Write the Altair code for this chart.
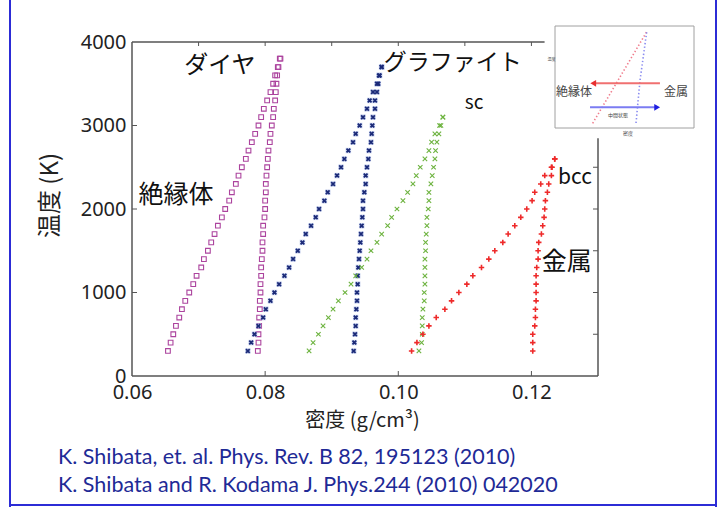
import altair as alt
import pandas as pd

# ---------------- data ----------------
T_diamond = [300, 400, 500, 600, 700, 800, 900, 1000, 1100, 1200, 1300, 1400,
             1500, 1600, 1700, 1800, 1900, 2000, 2100, 2200, 2300, 2400, 2500,
             2600, 2700, 2800, 2900, 3000, 3100, 3200, 3300, 3400, 3500, 3600,
             3700, 3800]
diamond_a = [0.0654, 0.0658, 0.0662, 0.0666, 0.0671, 0.0675, 0.0680, 0.0686, 0.0692, 0.0697,
             0.0704, 0.0708, 0.0714, 0.0719, 0.0724, 0.0729, 0.0735, 0.0740, 0.0746, 0.0750,
             0.0756, 0.0760, 0.0765, 0.0771, 0.0775, 0.0780, 0.0785, 0.0790, 0.0794, 0.0798,
             0.0803, 0.0808, 0.0812, 0.0815, 0.0819, 0.0822]
diamond_b = [0.0789, 0.0790, 0.0790, 0.0791, 0.0791, 0.0792, 0.0792, 0.0793, 0.0793, 0.0794,
             0.0794, 0.0795, 0.0796, 0.0796, 0.0797, 0.0797, 0.0799, 0.0800, 0.0800, 0.0801,
             0.0801, 0.0802, 0.0803, 0.0804, 0.0805, 0.0807, 0.0808, 0.0810, 0.0812, 0.0813,
             0.0815, 0.0816, 0.0817, 0.0818, 0.0820, 0.0823]

T_graphite = [300, 400, 500, 600, 700, 800, 900, 1000, 1100, 1200, 1300, 1400,
              1500, 1600, 1700, 1800, 1900, 2000, 2100, 2200, 2300, 2400, 2500,
              2600, 2700, 2800, 2900, 3000, 3100, 3200, 3300, 3400, 3500, 3600, 3700]
graphite_a = [0.0774, 0.0779, 0.0784, 0.0790, 0.0797, 0.0801, 0.0808, 0.0814, 0.0821, 0.0829,
              0.0836, 0.0842, 0.0849, 0.0856, 0.0861, 0.0869, 0.0876, 0.0881, 0.0889, 0.0894,
              0.0902, 0.0908, 0.0914, 0.0919, 0.0925, 0.0932, 0.0936, 0.0942, 0.0947, 0.0953,
              0.0957, 0.0962, 0.0968, 0.0971, 0.0975]
graphite_b = [0.0933, 0.0934, 0.0935, 0.0936, 0.0936, 0.0937, 0.0938, 0.0938, 0.0939, 0.0939,
              0.0940, 0.0941, 0.0942, 0.0943, 0.0944, 0.0945, 0.0946, 0.0947, 0.0947, 0.0949,
              0.0951, 0.0951, 0.0953, 0.0955, 0.0956, 0.0959, 0.0960, 0.0961, 0.0962, 0.0965,
              0.0965, 0.0968, 0.0970, 0.0972, 0.0975]

T_sc = [300, 400, 500, 600, 700, 800, 900, 1000, 1100, 1200, 1300, 1400, 1500,
        1600, 1700, 1800, 1900, 2000, 2100, 2200, 2300, 2400, 2500, 2600, 2700,
        2800, 2900, 3000, 3100]
sc_a = [0.0866, 0.0872, 0.0880, 0.0887, 0.0895, 0.0902, 0.0910, 0.0920, 0.0929, 0.0936,
        0.0945, 0.0953, 0.0959, 0.0968, 0.0975, 0.0984, 0.0990, 0.0998, 0.1007, 0.1014,
        0.1022, 0.1027, 0.1033, 0.1040, 0.1046, 0.1050, 0.1055, 0.1062, 0.1067]
sc_b = [0.1031, 0.1035, 0.1036, 0.1036, 0.1036, 0.1037, 0.1039, 0.1039, 0.1040, 0.1040,
        0.1040, 0.1040, 0.1041, 0.1041, 0.1042, 0.1043, 0.1043, 0.1045, 0.1046, 0.1046,
        0.1049, 0.1051, 0.1053, 0.1055, 0.1056, 0.1058, 0.1061, 0.1064, 0.1067]

T_bcc = [300, 400, 500, 600, 700, 800, 900, 1000, 1100, 1200, 1300, 1400, 1500,
         1600, 1700, 1800, 1900, 2000, 2100, 2200, 2300, 2400, 2500, 2600]
bcc_a = [0.1020, 0.1028, 0.1037, 0.1046, 0.1057, 0.1070, 0.1080, 0.1091, 0.1103, 0.1112,
         0.1125, 0.1136, 0.1145, 0.1157, 0.1165, 0.1175, 0.1184, 0.1193, 0.1201, 0.1205,
         0.1214, 0.1220, 0.1230, 0.1235]
bcc_b = [0.1202, 0.1202, 0.1202, 0.1205, 0.1206, 0.1206, 0.1207, 0.1207, 0.1207, 0.1207,
         0.1208, 0.1210, 0.1210, 0.1211, 0.1215, 0.1217, 0.1219, 0.1220, 0.1221, 0.1224,
         0.1226, 0.1230, 0.1231, 0.1235]

x_ticks = [0.06, 0.08, 0.10, 0.12]
y_ticks = [0, 1000, 2000, 3000, 4000]
left_minor = [1000, 2000, 3000]
right_minor = [500, 1000, 1500, 2000, 2500]
top_minor = [0.07, 0.08, 0.09, 0.10, 0.11, 0.12]
bottom_minor = [0.08, 0.10, 0.12]

ann_label = ["ダイヤ", "グラファイト", "sc", "絶縁体", "bcc", "金属"]
ann_x = [0.0732, 0.1082, 0.1100, 0.0666, 0.1240, 0.1253]
ann_y = [3712, 3748, 3265, 2165, 2370, 1360]
ann_size = [24, 23, 19, 25, 21, 25]
ann_align = ["center", "center", "left", "center", "left", "center"]

citations = ["K. Shibata, et. al. Phys. Rev. B 82, 195123 (2010)",
             "K. Shibata and R. Kodama J. Phys.244 (2010) 042020"]

# inset schematic (its own unit coordinates)
inset_red_u = [0.271, 0.660]
inset_red_v = [0.046, 0.944]
inset_blue_u = [0.583, 0.600, 0.612, 0.660]
inset_blue_v = [0.049, 0.300, 0.470, 0.944]
inset_text = ["絶縁体", "金属", "中間状態", "密度", "温度"]
inset_text_u = [0.137, 0.870, 0.453, 0.525, -0.025]
inset_text_v = [0.353, 0.353, 0.130, -0.050, 0.670]
inset_text_size = [12, 12, 5, 5, 4]

# ---------------- layout ----------------
W, H = 466, 334
PAD = {"left": 132, "top": 42, "right": 125, "bottom": 131}
JP = "Noto Sans CJK JP"

xs = alt.Scale(domain=[0.06, 0.13], nice=False, zero=False)
ys = alt.Scale(domain=[0, 4000], nice=False, zero=False)

x_axis = alt.Axis(values=x_ticks, format=".2f", domain=False, ticks=False, tickSize=0,
                  grid=False, labelFlush=False, labelOverlap=False, labelPadding=6,
                  labelFont="Noto Sans", labelFontSize=20, labelColor="#222",
                  title="密度 (g/cm³)", titleFont=JP, titleFontSize=20,
                  titleFontWeight="normal", titleColor="#222",
                  titleX=230, titleY=44, titleBaseline="middle", titleAlign="center")
y_axis = alt.Axis(values=y_ticks, format="d", domain=False, ticks=False, tickSize=0,
                  grid=False, labelFlush=False, labelOverlap=False, labelPadding=6,
                  labelFont="Noto Sans", labelFontSize=20, labelColor="#222",
                  title="温度 (K)", titleFont=JP, titleFontSize=24,
                  titleFontWeight="normal", titleColor="#222", titleAngle=270,
                  titleX=-82, titleY=153, titleBaseline="middle", titleAlign="center")


def X(field):
    return alt.X(f"{field}:Q", scale=xs, axis=x_axis)


def Y(field):
    return alt.Y(f"{field}:Q", scale=ys, axis=y_axis)


def series(T, a, b):
    return pd.DataFrame({"t": T + T, "d": a + b})


one = pd.DataFrame({"k": [0]})
FRAME = "#555555"

frame = [
    alt.Chart(one).mark_rule(color=FRAME, strokeWidth=1.5).encode(
        x=alt.value(0), y=alt.value(0), y2=alt.value(H)),
    alt.Chart(one).mark_rule(color=FRAME, strokeWidth=1.5).encode(
        x=alt.value(W), y=alt.value(0), y2=alt.value(H)),
    alt.Chart(one).mark_rule(color=FRAME, strokeWidth=1.5).encode(
        x=alt.value(0), x2=alt.value(W), y=alt.value(0)),
    alt.Chart(one).mark_rule(color=FRAME, strokeWidth=1.5).encode(
        x=alt.value(0), x2=alt.value(W), y=alt.value(H)),
]

ticks = [
    alt.Chart(pd.DataFrame({"tv": left_minor})).mark_rule(color=FRAME, strokeWidth=1).encode(
        y=Y("tv"), x=alt.value(0), x2=alt.value(5)),
    alt.Chart(pd.DataFrame({"tv": right_minor})).mark_rule(color=FRAME, strokeWidth=1).encode(
        y=Y("tv"), x=alt.value(W - 5), x2=alt.value(W)),
    alt.Chart(pd.DataFrame({"tv": top_minor})).mark_rule(color=FRAME, strokeWidth=1).encode(
        x=X("tv"), y=alt.value(0), y2=alt.value(4)),
    alt.Chart(pd.DataFrame({"tv": bottom_minor})).mark_rule(color=FRAME, strokeWidth=1).encode(
        x=X("tv"), y=alt.value(H - 5), y2=alt.value(H)),
]

XSHAPE = "M-1,-1L1,1M-1,1L1,-1"
PLUS = "M-1,0L1,0M0,-1L0,1"

points = [
    alt.Chart(series(T_diamond, diamond_a, diamond_b)).mark_point(
        shape="square", filled=False, color="#AC449E", size=22, strokeWidth=1.1, opacity=1
    ).encode(x=X("d"), y=Y("t")),
    alt.Chart(series(T_graphite, graphite_a, graphite_b)).mark_point(
        shape="square", filled=True, color="#B4C2EA", size=30, opacity=0.7, strokeWidth=0
    ).encode(x=X("d"), y=Y("t")),
    alt.Chart(series(T_graphite, graphite_a, graphite_b)).mark_point(
        shape=XSHAPE, filled=False, color="#1B2A78", size=14, strokeWidth=1.8, opacity=1
    ).encode(x=X("d"), y=Y("t")),
    alt.Chart(series(T_sc, sc_a, sc_b)).mark_point(
        shape=XSHAPE, filled=False, color="#6DB33F", size=20, strokeWidth=1.1, opacity=1
    ).encode(x=X("d"), y=Y("t")),
    alt.Chart(series(T_bcc, bcc_a, bcc_b)).mark_point(
        shape=PLUS, filled=False, color="#EE2A2A", size=30, strokeWidth=1.6, opacity=1
    ).encode(x=X("d"), y=Y("t")),
]

ann_df = pd.DataFrame({"label": ann_label, "d": ann_x, "t": ann_y,
                       "s": ann_size, "al": ann_align})
annotations = []
for al in ["center", "left"]:
    annotations.append(
        alt.Chart(ann_df).transform_filter(alt.datum.al == al).mark_text(
            font=JP, color="#111", baseline="middle", align=al
        ).encode(x=X("d"), y=Y("t"), text="label:N",
                 size=alt.Size("s:Q", scale=None, legend=None)))

main = alt.layer(*frame, *ticks, *points, *annotations)

# ---------------- inset (own scales placed top-right) ----------------
us = alt.Scale(domain=[0, 1], range=[423, 562], nice=False, zero=False)
vs = alt.Scale(domain=[0, 1], range=[86, -16], nice=False, zero=False)


def U(f):
    return alt.X(f"{f}:Q", scale=us, axis=None)


def V(f):
    return alt.Y(f"{f}:Q", scale=vs, axis=None)


cover = pd.DataFrame({"u": [-0.075], "u2": [1.06], "v": [-0.10], "v2": [1.08]})
box = pd.DataFrame({"u": [0.0], "u2": [1.0], "v": [0.0], "v2": [1.0]})
inset_layers = [
    alt.Chart(cover).mark_rect(color="white").encode(
        x=U("u"), x2="u2:Q", y=V("v"), y2="v2:Q"),
    alt.Chart(box).mark_rect(fill="white", stroke="#A0A0A0", strokeWidth=1).encode(
        x=U("u"), x2="u2:Q", y=V("v"), y2="v2:Q"),
    alt.Chart(pd.DataFrame({"u": inset_red_u, "v": inset_red_v})).mark_line(
        color="#F07C8C", strokeWidth=1.6, strokeDash=[1.4, 2.2]).encode(x=U("u"), y=V("v")),
    alt.Chart(pd.DataFrame({"u": inset_blue_u, "v": inset_blue_v})).mark_line(
        color="#8A8CF0", strokeWidth=1.6, strokeDash=[1.4, 2.2]).encode(x=U("u"), y=V("v")),
    # red arrow (to the left)
    alt.Chart(pd.DataFrame({"u": [0.755, 0.29], "v": [0.438, 0.438]})).mark_line(
        color="#F07070", strokeWidth=2).encode(x=U("u"), y=V("v")),
    alt.Chart(pd.DataFrame({"u": [0.275], "v": [0.438]})).mark_point(
        shape="triangle-left", filled=True, color="#E83030", size=45, opacity=1).encode(
        x=U("u"), y=V("v")),
    # blue arrow (to the right)
    alt.Chart(pd.DataFrame({"u": [0.252, 0.72], "v": [0.203, 0.203]})).mark_line(
        color="#7B7CF2", strokeWidth=2).encode(x=U("u"), y=V("v")),
    alt.Chart(pd.DataFrame({"u": [0.735], "v": [0.203]})).mark_point(
        shape="triangle-right", filled=True, color="#1E1EE0", size=45, opacity=1).encode(
        x=U("u"), y=V("v")),
]
itext = pd.DataFrame({"label": inset_text, "u": inset_text_u, "v": inset_text_v,
                      "s": inset_text_size})
inset_layers.append(
    alt.Chart(itext).mark_text(font=JP, color="#444", baseline="middle", align="center").encode(
        x=U("u"), y=V("v"), text="label:N", size=alt.Size("s:Q", scale=None, legend=None)))
inset = alt.layer(*inset_layers)

# ---------------- slide decorations ----------------
SLIDE = "#2C2CD6"
deco = [
    alt.Chart(one).mark_rule(color=SLIDE, strokeWidth=2).encode(
        x=alt.value(-122), y=alt.value(-42), y2=alt.value(465)),
    alt.Chart(one).mark_rule(color=SLIDE, strokeWidth=2).encode(
        x=alt.value(584), y=alt.value(-42), y2=alt.value(465)),
    alt.Chart(one).mark_rule(color=SLIDE, strokeWidth=2).encode(
        x=alt.value(-122), x2=alt.value(584), y=alt.value(463)),
    alt.Chart(one).mark_text(text=citations[0], font="Lato", fontSize=21.5, color="#1E2A96",
                             align="left", baseline="middle").encode(
        x=alt.value(-74), y=alt.value(416)),
    alt.Chart(one).mark_text(text=citations[1], font="Lato", fontSize=21.5, color="#1E2A96",
                             align="left", baseline="middle").encode(
        x=alt.value(-74), y=alt.value(444)),
]
deco_layer = alt.layer(*deco)

chart = alt.layer(main, inset, deco_layer).resolve_scale(
    x="independent", y="independent"
).properties(
    width=W, height=H, padding=PAD, background="white",
    autosize=alt.AutoSizeParams(type="none")
).configure_view(stroke=None)

chart.save("out.html", embed_options={"renderer": "svg", "actions": False})
